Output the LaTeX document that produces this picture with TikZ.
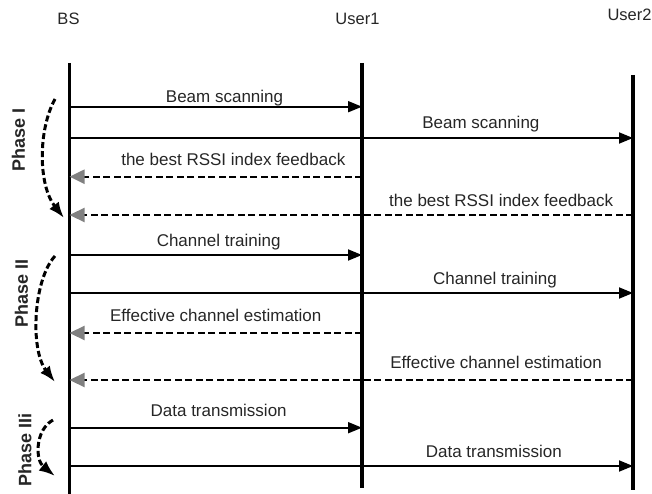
\documentclass[tikz,border=0pt]{standalone}
\usepackage{fontspec}
\setmainfont{Liberation Sans}
\usetikzlibrary{arrows.meta}

\tikzset{
  txt/.style = {font=\fontsize{17}{20}\selectfont, text=black!85, inner sep=0pt},
  head/.style = {txt, font=\fontsize{16.5}{20}\selectfont, anchor=base},
  lbl/.style = {txt, anchor=base, yshift=#1},
  lbl/.default = 9pt,
  lifeline/.style = {line width=3.3pt},
  msg/.style = {line width=1.8pt, -{Triangle[length=14pt,width=11pt]}},
  reply/.style = {line width=2.2pt, dash pattern=on 7pt off 3.5pt,
    -{Triangle[length=15pt,width=14pt,fill=gray,color=gray]}},
  phase/.style = {line width=3pt, dash pattern=on 6pt off 3pt,
    -{Latex[length=16pt,width=12pt]}},
  phaselbl/.style = {txt, font=\fontsize{18}{20}\selectfont\bfseries, rotate=90}
}

\begin{document}
\begin{tikzpicture}[x=1pt, y=-1pt]
    \useasboundingbox (0,0) rectangle (652,494);

    % entity names
    \node[head] (bs) at (68.5,25) {BS};
    \node[head] (u1) at (357.5,25) {User1};
    \node[head] (u2) at (629.5,20.7) {User2};

    % lifelines
    \coordinate (bs top) at (69.5,63);
    \coordinate (u1 top) at (362,63);
    \coordinate (u2 top) at (633,75);
    \draw[lifeline] (bs top) -- ++(0,431);
    \draw[lifeline] (u1 top) -- ++(0,425);
    \draw[lifeline] (u2 top) -- ++(0,415);

    % one row per message
    \foreach \n/\y in {1/106.7,2/138,3/176.7,4/215,5/255,6/293,7/333,8/380,9/427.7,10/466}
      \coordinate (r\n) at (0,\y);

    % Phase I
    \draw[msg] (bs top |- r1) -- node[lbl=4pt, pos=.53] {Beam scanning} (u1 top |- r1);
    \draw[msg] (bs top |- r2) -- node[lbl, pos=.73] {Beam scanning} (u2 top |- r2);
    \draw[reply] (u1 top |- r3) -- node[lbl=11pt, pos=.44] {the best RSSI index feedback} (bs top |- r3);
    \draw[reply] (u2 top |- r4) -- node[lbl=8pt, pos=.234] {the best RSSI index feedback} (bs top |- r4);

    % Phase II
    \draw[msg] (bs top |- r5) -- node[lbl, pos=.51] {Channel training} (u1 top |- r5);
    \draw[msg] (bs top |- r6) -- node[lbl, pos=.755] {Channel training} (u2 top |- r6);
    \draw[reply] (u1 top |- r7) -- node[lbl=12pt, pos=.5] {Effective channel estimation} (bs top |- r7);
    \draw[reply] (u2 top |- r8) -- node[lbl=12pt, pos=.243] {Effective channel estimation} (bs top |- r8);

    % Phase III
    \draw[msg] (bs top |- r9) -- node[lbl=11pt, pos=.51] {Data transmission} (u1 top |- r9);
    \draw[msg] (bs top |- r10) -- node[lbl, pos=.753] {Data transmission} (u2 top |- r10);

    % phase brackets on the left
    \draw[phase] (55,99) .. controls (38,130) and (38,185) .. (64,218);
    \node[phaselbl] (ph1) at (18.5,140) {Phase I};
    \draw[phase] (55,256) .. controls (33,280) and (30,350) .. (55,382);
    \node[phaselbl] (ph2) at (21.5,293) {Phase II};
    \draw[phase] (53,420) .. controls (35,430) and (35,460) .. (55,476);
    \node[phaselbl] (ph3) at (25,450) {Phase IIi};
\end{tikzpicture}
\end{document}
